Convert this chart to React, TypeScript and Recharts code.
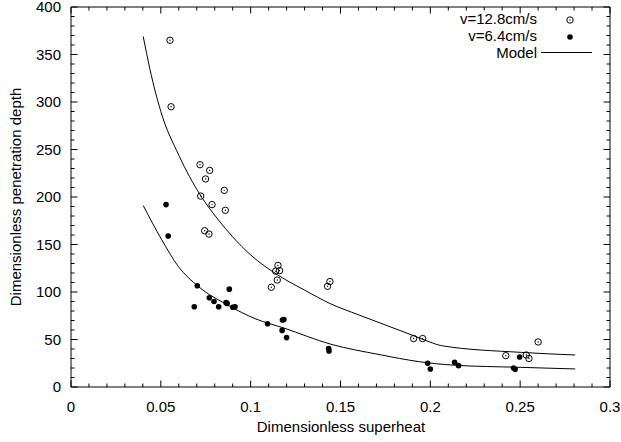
import React from 'react';
import { ScatterChart, Scatter, XAxis, YAxis } from 'recharts';

document.body.style.margin = '0';

const FONT = '"Liberation Sans", Arial, Helvetica, sans-serif';

// v=12.8cm/s (open circles)
const fastX = [0.0551, 0.0557, 0.0718, 0.0772, 0.0749, 0.0853, 0.0722, 0.0785, 0.0859, 0.0744, 0.0768, 0.1152, 0.1139, 0.1161, 0.1148, 0.1115, 0.1441, 0.1428, 0.1907, 0.1957, 0.242, 0.2534, 0.2549, 0.26];
const fastY = [365, 295, 234, 228, 219, 207, 201, 192, 186, 164.5, 161, 128, 122, 122.5, 112.6, 105, 111, 106, 51, 51, 33, 33.7, 30, 47.4];

// v=6.4cm/s (filled dots)
const slowX = [0.0529, 0.0541, 0.0703, 0.0686, 0.077, 0.0796, 0.0822, 0.0863, 0.0869, 0.0881, 0.09, 0.0913, 0.1094, 0.1177, 0.1185, 0.1175, 0.12, 0.1434, 0.1436, 0.1985, 0.2, 0.2135, 0.2157, 0.2463, 0.2472, 0.2497];
const slowY = [192, 159, 106.6, 84.5, 94, 90, 84.5, 88.8, 88, 103, 84, 84.5, 66.6, 70.5, 71, 59.6, 52, 40.6, 38, 25, 19, 26, 22.5, 20, 18.6, 31.6];

// model curves
const modelHiX = [0.0402, 0.044, 0.05, 0.06, 0.072, 0.082, 0.09, 0.1, 0.115, 0.13, 0.144, 0.16, 0.1775, 0.19, 0.1995, 0.2063, 0.25, 0.2806];
const modelHiY = [369, 334, 290, 244, 202, 176, 158, 139, 118, 102, 88, 76, 63.5, 54.5, 47.5, 43.5, 36.5, 33.7];
const modelLoX = [0.0402, 0.0505, 0.0597, 0.0708, 0.0875, 0.1024, 0.1186, 0.1447, 0.172, 0.194, 0.2127, 0.25, 0.2806];
const modelLoY = [191, 155, 127, 106, 86, 72, 62, 45, 34, 26.6, 23, 20.7, 19];

const xMajor = [0, 0.05, 0.1, 0.15, 0.2, 0.25, 0.3];
const yMajor = [0, 50, 100, 150, 200, 250, 300, 350, 400];
const xTicks = Array.from({ length: 31 }, (_, i) => i / 100);
const yTicks = Array.from({ length: 41 }, (_, i) => i * 10);

const zip = (xs: number[], ys: number[]) => xs.map((x, i) => ({ x, y: ys[i] }));
const fast = zip(fastX, fastY);
const slow = zip(slowX, slowY);
const modelHi = zip(modelHiX, modelHiY);
const modelLo = zip(modelLoX, modelLoY);

const isMajorX = (v: number) => xMajor.some((m) => Math.abs(m - v) < 1e-6);
const isMajorY = (v: number) => yMajor.some((m) => Math.abs(m - v) < 1e-6);
const fmtX = (v: number) => (v === 0 ? '0' : String(+v.toFixed(2)));

const BIG = 6.5;
const SMALL = 3.5;

const BottomTick = ({ x, y, payload }: any) => {
  const major = isMajorX(payload.value);
  return (
    <g>
      <line x1={x} y1={y} x2={x} y2={y - (major ? BIG : SMALL)} stroke="#000" />
      {major && (
        <text x={x} y={y + 25} textAnchor="middle" fontFamily={FONT} fontSize={15} fill="#000">
          {fmtX(payload.value)}
        </text>
      )}
    </g>
  );
};

const TopTick = ({ x, y, payload }: any) => {
  const major = isMajorX(payload.value);
  return <line x1={x} y1={y} x2={x} y2={y + (major ? BIG : SMALL)} stroke="#000" />;
};

const LeftTick = ({ x, y, payload }: any) => {
  const major = isMajorY(payload.value);
  return (
    <g>
      <line x1={x} y1={y} x2={x + (major ? BIG : SMALL)} y2={y} stroke="#000" />
      {major && (
        <text x={x - 10} y={y + 5} textAnchor="end" fontFamily={FONT} fontSize={15} fill="#000">
          {payload.value}
        </text>
      )}
    </g>
  );
};

const RightTick = ({ x, y, payload }: any) => {
  const major = isMajorY(payload.value);
  return <line x1={x} y1={y} x2={x - (major ? BIG : SMALL)} y2={y} stroke="#000" />;
};

const OpenDot = (p: any) => (
  <g>
    <circle cx={p.cx} cy={p.cy} r={3.2} fill="none" stroke="#000" strokeWidth={1} />
    <circle cx={p.cx} cy={p.cy} r={0.7} fill="#000" />
  </g>
);
const FilledDot = (p: any) => <circle cx={p.cx} cy={p.cy} r={2.8} fill="#000" />;
const NoDot = () => <g />;

const axisLine = { stroke: '#000', strokeWidth: 1 };

const App: React.FC = () => {
  return (
    <div style={{ position: 'relative', width: 621, height: 442, background: '#fff' }}>
      <ScatterChart width={621} height={442} margin={{ top: 6, right: 10, bottom: 0, left: 0 }}>
        <XAxis
          xAxisId="b"
          orientation="bottom"
          type="number"
          dataKey="x"
          domain={[0, 0.3]}
          allowDataOverflow
          ticks={xTicks}
          interval={0}
          height={55}
          tickSize={0}
          tickMargin={0}
          tickLine={false}
          axisLine={axisLine}
          tick={(p: any) => <BottomTick {...p} />}
        />
        <XAxis
          xAxisId="t"
          orientation="top"
          type="number"
          dataKey="x"
          domain={[0, 0.3]}
          allowDataOverflow
          ticks={xTicks}
          interval={0}
          height={1}
          tickSize={0}
          tickMargin={0}
          tickLine={false}
          axisLine={axisLine}
          tick={(p: any) => <TopTick {...p} />}
        />
        <YAxis
          yAxisId="l"
          type="number"
          dataKey="y"
          domain={[0, 400]}
          allowDataOverflow
          ticks={yTicks}
          interval={0}
          width={71}
          tickSize={0}
          tickMargin={0}
          tickLine={false}
          axisLine={axisLine}
          tick={(p: any) => <LeftTick {...p} />}
        />
        <YAxis
          yAxisId="r"
          orientation="right"
          type="number"
          dataKey="y"
          domain={[0, 400]}
          allowDataOverflow
          ticks={yTicks}
          interval={0}
          width={1}
          tickSize={0}
          tickMargin={0}
          tickLine={false}
          axisLine={axisLine}
          tick={(p: any) => <RightTick {...p} />}
        />
        <Scatter
          name="Model upper"
          data={modelHi}
          xAxisId="b"
          yAxisId="l"
          line={{ stroke: '#000', strokeWidth: 1 }}
          lineJointType="monotoneX"
          shape={NoDot}
          isAnimationActive={false}
        />
        <Scatter
          name="Model lower"
          data={modelLo}
          xAxisId="b"
          yAxisId="l"
          line={{ stroke: '#000', strokeWidth: 1 }}
          lineJointType="monotoneX"
          shape={NoDot}
          isAnimationActive={false}
        />
        <Scatter name="v=12.8cm/s" data={fast} xAxisId="b" yAxisId="l" shape={OpenDot} isAnimationActive={false} />
        <Scatter name="v=6.4cm/s" data={slow} xAxisId="b" yAxisId="l" shape={FilledDot} isAnimationActive={false} />
      </ScatterChart>
      <svg
        width={621}
        height={442}
        style={{ position: 'absolute', left: 0, top: 0, pointerEvents: 'none' }}
        fontFamily={FONT}
        fontSize={15}
      >
        <text x={341} y={432} textAnchor="middle" fill="#000">
          Dimensionless superheat
        </text>
        <text x={21} y={197} textAnchor="middle" fill="#000" transform="rotate(-90 21 197)">
          Dimensionless penetration depth
        </text>
        <text x={537} y={24} textAnchor="end" fill="#000">v=12.8cm/s</text>
        <circle cx={570} cy={20} r={3.2} fill="none" stroke="#000" />
        <circle cx={570} cy={20} r={0.7} fill="#000" />
        <text x={537} y={41} textAnchor="end" fill="#000">v=6.4cm/s</text>
        <circle cx={570} cy={37} r={2.8} fill="#000" />
        <text x={537} y={58} textAnchor="end" fill="#000">Model</text>
        <line x1={541} y1={52.5} x2={592} y2={52.5} stroke="#000" />
      </svg>
    </div>
  );
};

export default App;
